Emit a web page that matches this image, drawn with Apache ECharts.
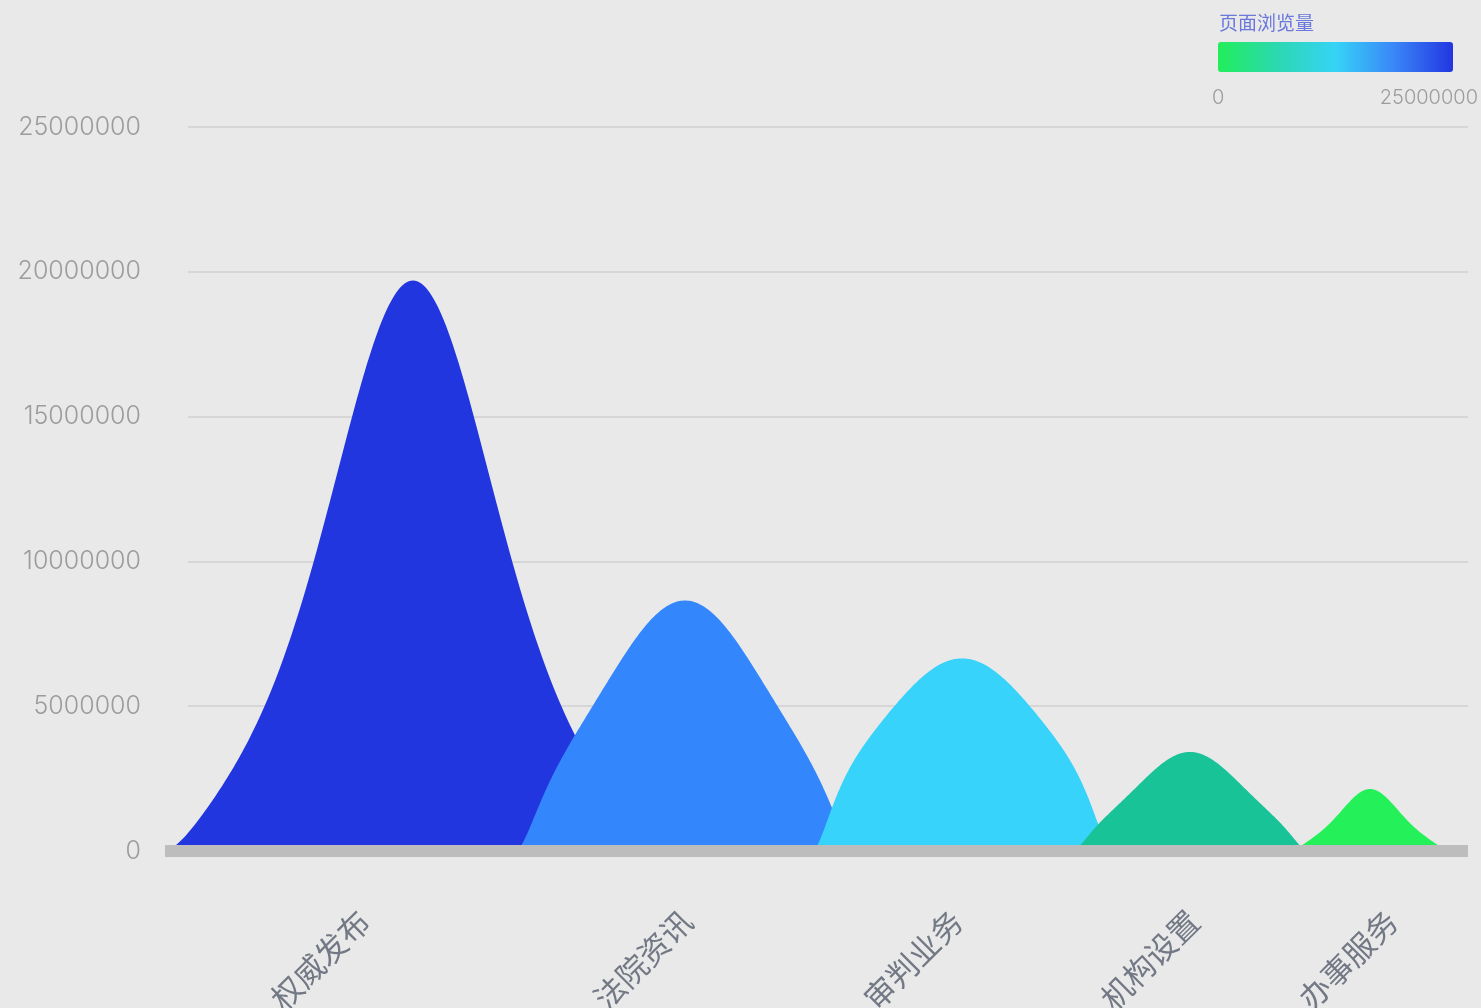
<!DOCTYPE html>
<html>
<head>
<meta charset="utf-8">
<script src="https://cdn.jsdelivr.net/npm/echarts@6/dist/echarts.min.js"></script>
<style>
html,body{margin:0;padding:0;background:#e9e9e9;}
#chart{width:1481px;height:1008px;}
</style>
</head>
<body>
<div id="chart"></div>
<script>
// ---- data ----
const categories = ['权威发布', '法院资讯', '审判业务', '机构设置', '办事服务'];
const pageViews = [19700000, 8650000, 6650000, 3420000, 2140000];
const yTickValues = [0, 5000000, 10000000, 15000000, 20000000, 25000000];
const legendRange = [0, 25000000];
const legendTitle = '页面浏览量';

// ---- layout (x axis units across the plot) ----
const X_MIN = 0, X_MAX = 100;
const peakCenters = [19.03, 39.91, 61.17, 78.66, 92.48];
const labelAnchors = [15.27, 40.05, 60.78, 78.96, 94.16];
// half width to the foot and core spread of each peak shape
const peakHalfWidths = [19.19, 13.05, 11.51, 9.06, 6.14];
const peakSpread = [8.75, 9.21, 9.52, 5.99, 3.22];
const peakColors = ['#2236e0', '#3486fc', '#37d3fa', '#18c397', '#24f05a'];

const chart = echarts.init(document.getElementById('chart'));

function sech2(x) { const c = Math.cosh(x); return 1 / (c * c); }

function renderPeak(params, api) {
  const i = params.dataIndex;
  const c = api.value(0), v = api.value(1);
  const w = peakHalfWidths[i], s = peakSpread[i];
  const pts = [];
  const N = 240;
  for (let j = 0; j <= N; j++) {
    const u = -1 + 2 * j / N;
    const au = Math.abs(u);
    const t = 1 - Math.pow(au, 10);
    const f = sech2(au * w / s) * t * t;
    pts.push(api.coord([c + u * w, v * f]));
  }
  return { type: 'polygon', shape: { points: pts }, style: { fill: peakColors[i] } };
}

function renderBaseBar(params, api) {
  const p0 = api.coord([X_MIN, 0]);
  const p1 = api.coord([X_MAX, 0]);
  return {
    type: 'rect',
    shape: { x: p0[0], y: p0[1] - 6, width: p1[0] - p0[0], height: 12 },
    style: { fill: '#bdbdbd' }
  };
}

const option = {
  backgroundColor: '#e9e9e9',
  animation: false,
  textStyle: { fontFamily: 'Inter, "Noto Sans CJK SC", sans-serif' },
  title: {
    text: legendTitle,
    left: 1214, top: 8,
    textStyle: { color: '#6a78dc', fontSize: 19, fontWeight: 'normal', fontFamily: '"Noto Sans CJK SC", sans-serif' }
  },
  grid: [
    { left: 188, right: 13, top: 127, bottom: 157, outerBoundsMode: 'none', containLabel: false },
    { left: 165, right: 13, top: 127, bottom: 157, outerBoundsMode: 'none', containLabel: false }
  ],
  xAxis: [
    { gridIndex: 0, type: 'value', min: X_MIN, max: X_MAX, show: false },
    {
      gridIndex: 1, type: 'value', min: X_MIN, max: X_MAX,
      splitLine: { show: false },
      axisTick: { show: false },
      axisLine: { show: false },
      axisLabel: {
        customValues: labelAnchors,
        rotate: 45,
        margin: 65,
        fontSize: 31,
        color: '#737885',
        fontFamily: '"Noto Sans CJK SC", sans-serif',
        formatter: function (val) {
          const idx = labelAnchors.indexOf(val);
          return idx >= 0 ? categories[idx] : '';
        }
      }
    }
  ],
  yAxis: [
    {
      gridIndex: 0, type: 'value', min: yTickValues[0], max: yTickValues[yTickValues.length - 1],
      interval: yTickValues[1] - yTickValues[0],
      axisLine: { show: false }, axisTick: { show: false },
      splitLine: { show: true, lineStyle: { color: '#d6d6d6', width: 2 } },
      axisLabel: {
        margin: 47, fontSize: 25, color: '#9c9c9c', fontFamily: 'Inter, sans-serif', fontWeight: 300,
        formatter: function (val) { return String(val); }
      }
    },
    {
      gridIndex: 1, type: 'value', min: yTickValues[0], max: yTickValues[yTickValues.length - 1],
      show: false
    }
  ],
  visualMap: {
    type: 'continuous',
    orient: 'horizontal',
    min: legendRange[0], max: legendRange[1],
    right: 28, top: 42,
    padding: 0,
    itemWidth: 30,
    itemHeight: 235,
    calculable: false,
    text: null,
    seriesIndex: 0,
    inRange: { color: ['#22ee5a', '#2bd8b0', '#36d3f6', '#3a86f8', '#2236e0'] }
  },
  graphic: [
    { type: 'text', left: 1212, top: 88, style: { text: String(legendRange[0]), fontSize: 20, fill: '#9c9c9c', fontFamily: 'Inter, sans-serif', fontWeight: 300 } },
    { type: 'text', right: 3, top: 88, style: { text: String(legendRange[1]), fontSize: 20, fill: '#9c9c9c', fontFamily: 'Inter, sans-serif', fontWeight: 300 } }
  ],
  series: [
    {
      type: 'custom',
      xAxisIndex: 1, yAxisIndex: 1,
      clip: true,
      renderItem: renderPeak,
      encode: { x: 0, y: 1 },
      data: pageViews.map((v, i) => [peakCenters[i], v, categories[i]])
    },
    {
      type: 'custom',
      xAxisIndex: 1, yAxisIndex: 1,
      z: 10,
      silent: true,
      renderItem: renderBaseBar,
      data: [[X_MIN, 0]]
    }
  ]
};
chart.setOption(option);
</script>
</body>
</html>
